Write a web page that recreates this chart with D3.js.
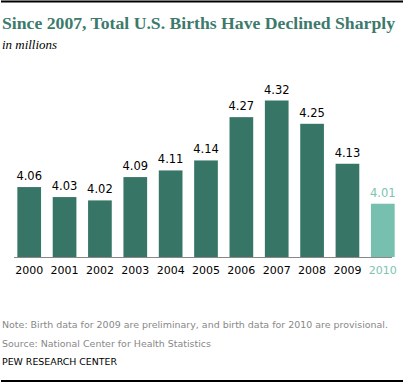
<!DOCTYPE html>
<html><head><meta charset="utf-8">
<script src="https://cdn.jsdelivr.net/npm/d3@7"></script>
<style>body{margin:0;background:#fff}svg{display:block}</style>
</head><body>
<script>
const years = ["2000","2001","2002","2003","2004","2005","2006","2007","2008","2009","2010"];
const births = [4.06,4.03,4.02,4.09,4.11,4.14,4.27,4.32,4.25,4.13,4.01];
const valueLabels = ["4.06","4.03","4.02","4.09","4.11","4.14","4.27","4.32","4.25","4.13","4.01"];
const provisional = ["2010"];

const W=405,H=383;
const svg=d3.select("body").append("svg").attr("width",W).attr("height",H);
svg.append("line").attr("x1",1).attr("x2",403).attr("y1",1.5).attr("y2",1.5).attr("stroke","#000").attr("stroke-width",2);
svg.append("line").attr("x1",1).attr("x2",403).attr("y1",381).attr("y2",381).attr("stroke","#000").attr("stroke-width",2);

svg.append("text").attr("x",2).attr("y",29).text("Since 2007, Total U.S. Births Have Declined Sharply")
  .attr("font-family","'Liberation Serif', Georgia, serif").attr("font-weight","bold").attr("font-size",16.5)
  .attr("fill","#3c7a6c").attr("textLength",393).attr("lengthAdjust","spacingAndGlyphs");
svg.append("text").attr("x",2).attr("y",49).text("in millions")
  .attr("font-family","'Liberation Serif', Georgia, serif").attr("font-style","italic").attr("font-size",13.5)
  .attr("fill","#000").attr("textLength",55).attr("lengthAdjust","spacingAndGlyphs");

const x=d3.scaleBand().domain(years).range([14.35,397.65]).paddingInner(0.33).paddingOuter(0.085);
const y=d3.scaleLinear().domain([3.85,4.32]).range([257,100.5]);

const dark="#377566", light="#77bfae";
const col=d=>provisional.includes(d)?light:dark;

svg.append("g").selectAll("rect").data(years).join("rect")
  .attr("x",d=>x(d)).attr("width",x.bandwidth())
  .attr("y",(d,i)=>y(births[i])).attr("height",(d,i)=>y(3.85)-y(births[i]))
  .attr("fill",col);

svg.append("g").selectAll("text").data(years).join("text")
  .attr("x",d=>x(d)+x.bandwidth()/2).attr("y",(d,i)=>y(births[i])-7)
  .attr("text-anchor","middle").attr("font-family","'DejaVu Sans', Verdana, sans-serif").attr("font-size",11.5)
  .attr("fill",d=>provisional.includes(d)?"#7cc4b2":"#000")
  .text((d,i)=>valueLabels[i]);

const ax=svg.append("g").attr("transform","translate(0,257)").call(d3.axisBottom(x).tickSize(0).tickPadding(9));
ax.select(".domain").attr("stroke","#888").attr("d","M14,0.5H392");
ax.selectAll("text").attr("font-family","'DejaVu Sans', Verdana, sans-serif").attr("font-size",11)
  .attr("fill",d=>provisional.includes(d)?"#7cc4b2":"#000");

const foot=svg.append("g").attr("font-family","'DejaVu Sans', Tahoma, sans-serif").attr("font-size",9.5);
foot.append("text").attr("x",2).attr("y",327.5).attr("fill","#888").attr("textLength",386).attr("lengthAdjust","spacingAndGlyphs")
  .text("Note: Birth data for 2009 are preliminary, and birth data for 2010 are provisional.");
foot.append("text").attr("x",2).attr("y",346.5).attr("fill","#888").attr("textLength",209).attr("lengthAdjust","spacingAndGlyphs")
  .text("Source: National Center for Health Statistics");
foot.append("text").attr("x",2).attr("y",364.5).attr("fill","#000").attr("textLength",115).attr("lengthAdjust","spacingAndGlyphs")
  .text("PEW RESEARCH  CENTER");
</script>
</body></html>
